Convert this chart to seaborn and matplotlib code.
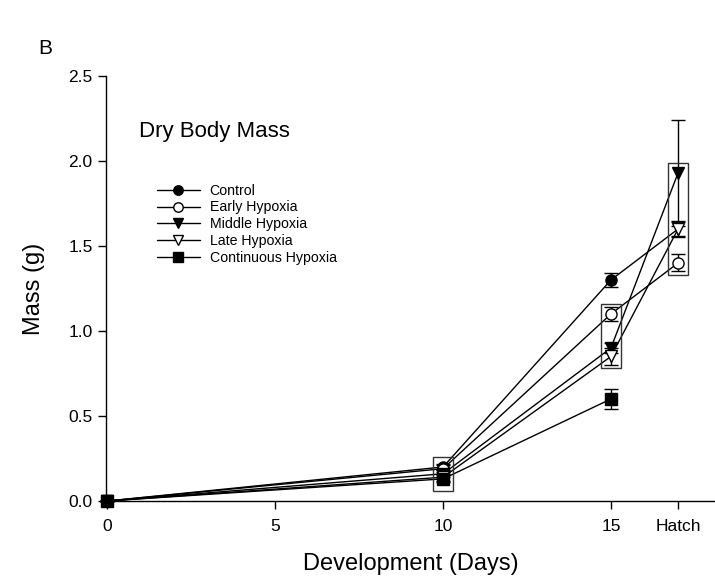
import numpy as np
import pandas as pd
import matplotlib
matplotlib.use('Agg')
import matplotlib.pyplot as plt
import seaborn as sns
from matplotlib.patches import Rectangle

# values (day 17 = "Hatch")
days = [0, 10, 15, 17]
tick_pos = [0, 5, 10, 15, 17]
tick_labels = ['0', '5', '10', '15', 'Hatch']

control = [0.0, 0.20, 1.30, 1.60]
control_err = [0.0, 0.02, 0.04, 0.04]
early = [0.0, 0.19, 1.10, 1.40]
early_err = [0.0, 0.02, 0.04, 0.05]
middle = [0.0, 0.16, 0.90, 1.93]
middle_err = [0.0, 0.02, 0.03, 0.31]
late = [0.0, 0.14, 0.85, 1.60]
late_err = [0.0, 0.02, 0.05, 0.045]
continuous = [0.0, 0.13, 0.60]
continuous_err = [0.0, 0.02, 0.06]

# groups that get a box around them (day, groups inside)
boxed = [(10, ['Control', 'Early Hypoxia', 'Middle Hypoxia', 'Late Hypoxia', 'Continuous Hypoxia']),
         (15, ['Early Hypoxia', 'Middle Hypoxia', 'Late Hypoxia']),
         (17, ['Control', 'Early Hypoxia', 'Middle Hypoxia', 'Late Hypoxia'])]

series = {
    'Control': (control, control_err, 'o', 'black'),
    'Early Hypoxia': (early, early_err, 'o', 'white'),
    'Middle Hypoxia': (middle, middle_err, 'v', 'black'),
    'Late Hypoxia': (late, late_err, 'v', 'white'),
    'Continuous Hypoxia': (continuous, continuous_err, 's', 'black'),
}

rows = []
for name, (vals, errs, m, fc) in series.items():
    for d, v, e in zip(days, vals, errs):
        rows.append({'day': d, 'mass': v, 'err': e, 'group': name})
data = pd.DataFrame(rows)

sns.set_style('ticks')
plt.rcParams['font.family'] = ['Liberation Sans', 'DejaVu Sans']
plt.rcParams['text.color'] = 'black'
plt.rcParams['axes.labelcolor'] = 'black'
plt.rcParams['xtick.color'] = 'black'
plt.rcParams['ytick.color'] = 'black'

fig = plt.figure(figsize=(7.15, 5.88), dpi=100)
ax = fig.add_axes([0.148, 0.148, 0.852, 0.7228])

for name, (vals, errs, m, fc) in series.items():
    sub = data[data.group == name]
    ax.errorbar(sub.day, sub.mass, yerr=sub.err, fmt='none', ecolor='black',
                elinewidth=1, capsize=5, capthick=1, zorder=2, clip_on=False)
    # the control marker at hatch sits hidden under the late-hypoxia one
    mk_every = [0, 1, 2] if name == 'Control' else None
    sns.lineplot(data=sub, x='day', y='mass', ax=ax, color='black', lw=1,
                 marker=m, markersize=8, markerfacecolor=fc, markeredgecolor='black',
                 markeredgewidth=1, markevery=mk_every, label=name,
                 clip_on=False, zorder=3)

for d, names in boxed:
    vals = [series[n][0][days.index(d)] for n in names]
    lo, hi = min(vals) - 0.07, max(vals) + 0.06
    ax.add_patch(Rectangle((d - 0.3, lo), 0.6, hi - lo, fill=False,
                           edgecolor='#333333', lw=1, zorder=4))

ax.set_xlim(-0.05, 18.1)
ax.set_ylim(0, 2.5)
ax.set_xticks(tick_pos)
ax.set_xticklabels(tick_labels)
ax.set_yticks(np.arange(0, 2.51, 0.5))
ax.set_yticklabels(['%.1f' % t for t in np.arange(0, 2.51, 0.5)])
ax.tick_params(labelsize=12.5, length=6, width=1, color='black', labelcolor='black')
ax.tick_params(axis='x', pad=7)
ax.set_xlabel('Development (Days)', fontsize=17, labelpad=14)
ax.set_ylabel('Mass (g)', fontsize=17, labelpad=17)
sns.despine(ax=ax)
for sp in ax.spines.values():
    sp.set_color('black')
    sp.set_linewidth(1)

ax.text(0.055, 0.87, 'Dry Body Mass', transform=ax.transAxes, fontsize=16,
        va='center')
fig.text(0.053, 0.918, 'B', fontsize=15, va='center')

ax.legend(loc='upper left', bbox_to_anchor=(0.075, 0.76), frameon=False,
          fontsize=10.2, handlelength=3.0, handletextpad=0.7, labelspacing=0.2,
          markerscale=0.85, borderaxespad=0)

fig.savefig('out.png', dpi=100)
